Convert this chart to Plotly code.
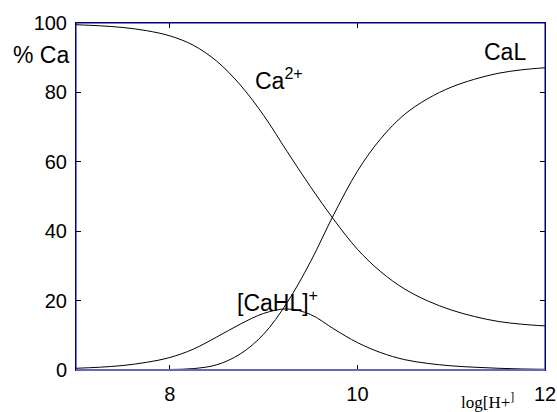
import plotly.graph_objects as go

# Calcium speciation versus pH-scale (log[H+] axis)
ph = [7.0, 7.25, 7.5, 7.75, 8.0, 8.25, 8.5, 8.75, 9.0, 9.25, 9.5,
      9.75, 10.0, 10.25, 10.5, 10.75, 11.0, 11.25, 11.5, 11.75, 12.0]
ca_free = [99.5, 99.2, 98.7, 97.8, 96.3, 93.6, 89.0, 82.2, 73.4, 63.0, 52.8,
           43.3, 34.8, 28.3, 23.4, 19.9, 17.3, 15.4, 14.0, 13.2, 12.7]
ca_hl = [0.5, 0.8, 1.3, 2.2, 3.6, 6.0, 9.5, 13.2, 16.3, 17.6, 16.0,
         11.8, 7.9, 5.0, 3.0, 1.9, 1.2, 0.8, 0.5, 0.3, 0.2]
ca_l = [0.0, 0.0, 0.0, 0.05, 0.15, 0.4, 1.5, 4.6, 10.3, 19.4, 31.2,
        44.9, 57.3, 66.7, 73.6, 78.2, 81.5, 83.8, 85.5, 86.5, 87.1]

x_ticks = [8, 10, 12]
y_ticks = [0, 20, 40, 60, 80, 100]

# label text and anchor (data coordinates)
species_labels = [
    ("Ca<sup>2+</sup>", 9.16, 84.0),
    ("CaL", 11.57, 91.6),
    ("[CaHL]<sup>+</sup>", 9.15, 20.0),
]

NAVY = "#000080"
BOTTOM_LINE = "#6a6ab4"
FONT = "Arial, Liberation Sans, sans-serif"

fig = go.Figure()
for ys in (ca_free, ca_hl, ca_l):
    fig.add_trace(go.Scatter(
        x=ph, y=ys, mode="lines",
        line=dict(color="black", width=1, shape="spline", smoothing=1.0),
        showlegend=False, hoverinfo="skip",
    ))

for text, xv, yv in species_labels:
    fig.add_annotation(x=xv, y=yv, text=text, showarrow=False,
                       font=dict(family=FONT, size=23, color="black"))

fig.add_annotation(xref="paper", yref="paper", x=-0.075, y=0.908,
                   xanchor="center", yanchor="middle",
                   text="% Ca", showarrow=False,
                   font=dict(family=FONT, size=23, color="black"))
fig.add_annotation(xref="paper", yref="paper", x=0.878, y=-0.088,
                   xanchor="center", yanchor="middle",
                   text="log[H+<sup>]</sup>", showarrow=False,
                   font=dict(family="Liberation Serif, Times New Roman, serif",
                             size=17, color="black"))

# plot frame: navy on three sides, a softer, heavier baseline
frame = [
    (0, 0, 0, 1, NAVY, 1),
    (0, 1, 1, 1, NAVY, 1),
    (1, 0, 1, 1, NAVY, 1),
    (0, 0, 1, 0, BOTTOM_LINE, 2),
]
for x0, y0, x1, y1, col, w in frame:
    fig.add_shape(type="line", xref="paper", yref="paper",
                  x0=x0, y0=y0, x1=x1, y1=y1, layer="above",
                  line=dict(color=col, width=w))

axis_common = dict(
    showline=True, linecolor=NAVY, linewidth=1, mirror="ticks",
    ticks="inside", ticklen=5, tickcolor="black", tickwidth=1,
    showgrid=False, zeroline=False, automargin=False,
    tickfont=dict(family=FONT, size=20, color="black"),
)

fig.update_xaxes(range=[7, 12], tickvals=x_ticks, ticklabelstandoff=6,
                 **axis_common)
fig.update_yaxes(range=[0, 100], tickvals=y_ticks, ticksuffix="  ",
                 ticklabelstandoff=4, **axis_common)

fig.update_layout(
    width=557, height=412,
    margin=dict(l=76, r=12, t=23, b=42),
    paper_bgcolor="white", plot_bgcolor="white",
)

fig.write_html("out.html")
